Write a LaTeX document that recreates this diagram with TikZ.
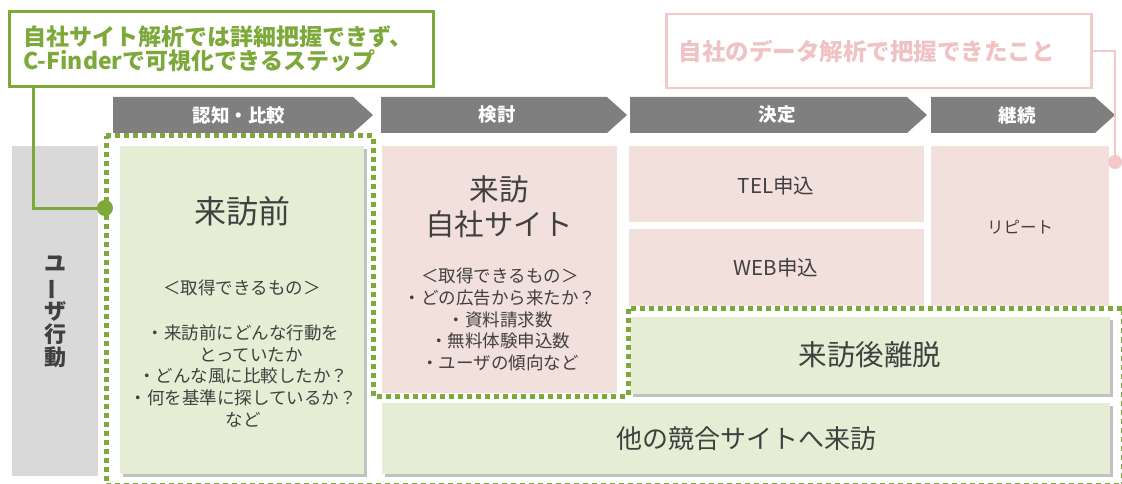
\documentclass[tikz,border=0pt]{standalone}
\usepackage{fontspec}
\setmainfont{Noto Sans CJK JP}
\usetikzlibrary{shadows,calc}
\definecolor{chevgray}{HTML}{7F7F7F}
\definecolor{labelgray}{HTML}{D9D9D9}
\definecolor{pinkfill}{HTML}{F2E0DD}
\definecolor{greenfill}{HTML}{E5EED5}
\definecolor{olive}{HTML}{7DA83A}
\definecolor{pinkline}{HTML}{F2C8C8}
\definecolor{pinktext}{HTML}{EFC3C3}
\definecolor{textgray}{HTML}{404040}
\begin{document}
\begin{tikzpicture}[x=1pt,y=-1pt,
  box/.style={inner sep=0pt, anchor=north west, draw=none},
  pinkbox/.style={box, fill=pinkfill},
  greenbox/.style={box, fill=greenfill, drop shadow={shadow xshift=2.5pt, shadow yshift=-2.5pt, opacity=0.35, fill=black!70}},
  txt/.style={text=textgray, align=center, inner sep=0pt},
  chevfill/.style={fill=chevgray},
  chevtxt/.style={text=white, inner sep=0pt, font=\bfseries\fontsize{18.5}{20}\selectfont},
  greenline/.style={draw=olive, line width=3pt},
  pinkconn/.style={draw=pinkline, line width=2pt},
  dotline/.style={draw=olive, line width=5pt, dash pattern=on 5pt off 4pt},
  fs/.style={font=\fontsize{#1}{#1}\selectfont}
]
\useasboundingbox (0,0) rectangle (1122,484);

% header chevrons
\fill[chevfill] (113,97) -- (353,97) -- (373,115) -- (353,133) -- (113,133) -- cycle;
\fill[chevfill] (381,97) -- (607,97) -- (627,115) -- (607,133) -- (381,133) -- cycle;
\fill[chevfill] (630,97) -- (907,97) -- (927,115) -- (907,133) -- (630,133) -- cycle;
\fill[chevfill] (931,97) -- (1095,97) -- (1115,115) -- (1095,133) -- (931,133) -- cycle;
\node[chevtxt] (h1) at (239,115) {認知・比較};
\node[chevtxt] (h2) at (497,115) {検討};
\node[chevtxt] (h3) at (777,115) {決定};
\node[chevtxt] (h4) at (1017,115) {継続};

% left label
\node[box, fill=labelgray, minimum width=86pt, minimum height=330pt] (label) at (12,146) {};
\node[txt, font=\bfseries\fontsize{22}{23}\selectfont] (labeltxt) at (55,312)
  {ユ\\\rotatebox[origin=c]{90}{ー}\\ザ\\行\\動};

% boxes
\node[greenbox, minimum width=244pt, minimum height=328pt] (before) at (120,146) {};
\node[pinkbox, minimum width=235pt, minimum height=247pt] (visit) at (382,146) {};
\node[pinkbox, minimum width=295pt, minimum height=76pt] (tel) at (629,146) {};
\node[pinkbox, minimum width=295pt, minimum height=77pt] (web) at (629,229) {};
\node[pinkbox, minimum width=178pt, minimum height=160pt] (repeat) at (931,146) {};
\node[greenbox, minimum width=480pt, minimum height=77pt] (leave) at (630,317) {};
\node[greenbox, minimum width=728pt, minimum height=71pt] (other) at (382,403) {};

% texts
\node[txt, fs=32] (beforetitle) at (242,211) {来訪前};
\node[txt, fs=17.5] (beforesub) at (242,288) {＜取得できるもの＞};
\node[txt, font=\fontsize{17.5}{21.75}\selectfont] (beforelist) at (243,376)
  {・来訪前にどんな行動を\\\hspace*{16pt}とっていたか\\・どんな風に比較したか？\\・何を基準に探しているか？\\など};
\node[txt, font=\fontsize{29.5}{35}\selectfont] (visittitle) at (499,207) {来訪\\自社サイト};
\node[txt, font=\fontsize{17.5}{21.75}\selectfont] (visitlist) at (500,319.5)
  {＜取得できるもの＞\\・どの広告から来たか？\\・資料請求数\\・無料体験申込数\\・ユーザの傾向など};
\node[txt, fs=20.5] (teltxt) at (776,186) {TEL申込};
\node[txt, fs=20.5] (webtxt) at (776,268) {WEB申込};
\node[txt, fs=16.5] (repeattxt) at (1020,227) {リピート};
\node[txt, fs=28.5] (leavetxt) at (870,355) {来訪後離脱};
\node[txt, fs=26] (othertxt) at (746,439) {他の競合サイトへ来訪};

% dotted region
\draw[dotline, line join=round] (106,136) -- (373,136) -- (373,396) -- (628,396) -- (628,308) -- (1123.5,308) -- (1123.5,485.5) -- (106,485.5) -- cycle;

% green callout
\node[box, draw=olive, line width=3pt, minimum width=424pt, minimum height=75pt,
      text width=396pt, inner xsep=14pt, align=left, text=olive,
      font=\bfseries\fontsize{23}{23.5}\selectfont] (gcall) at (8,10)
  {自社サイト解析では詳細把握できず、\\C-Finderで可視化できるステップ};
\coordinate (gdot) at (105,208);
\draw[greenline] ($(gcall.south west)+(25,0)$) |- (gdot);
\fill[olive] (gdot) circle (8pt);

% pink callout
\node[box, draw=pinkline, line width=2.5pt, minimum width=425pt, minimum height=74pt,
      text width=400pt, inner xsep=12.5pt, align=left, text=pinktext,
      font=\bfseries\fontsize{23.5}{25}\selectfont] (pcall) at (665,13)
  {自社のデータ解析で把握できたこと};
\coordinate (pdot) at (1115,162);
\draw[pinkconn] (pcall.east) -| (pdot);
\fill[pinkline] (pdot) circle (7pt);
\end{tikzpicture}
\end{document}
